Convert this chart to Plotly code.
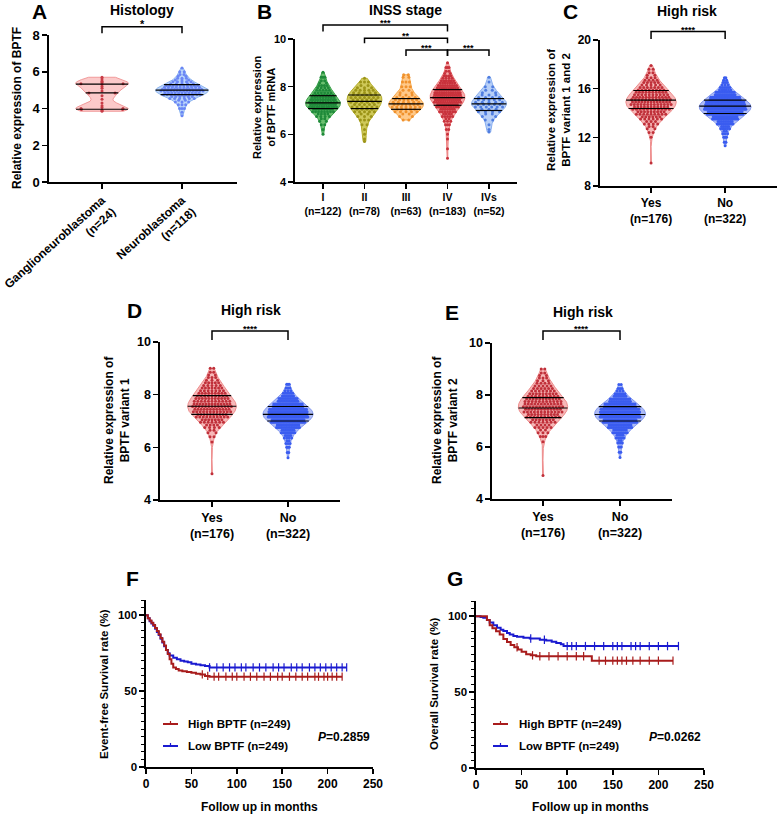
import numpy as np
import plotly.graph_objects as go

W, H = 778, 817
FONT = "Liberation Sans, Arial, sans-serif"

# ------------------------------------------------------------------ DATA
# Panel A: Histology (bins of expression value, number of samples per bin)
A_ticktext = ["Ganglioneuroblastoma<br>(n=24)", "Neuroblastoma<br>(n=118)"]
A_gnb_bins = [3.85, 3.9, 3.95, 4.0, 4.05, 4.15, 4.3, 4.5, 4.7, 4.85, 4.95, 5.1, 5.2, 5.3, 5.35, 5.4, 5.45, 5.5, 5.6, 5.7]
A_gnb_counts = [1, 1, 2, 2, 1, 1, 1, 1, 1, 2, 1, 1, 1, 1, 2, 1, 1, 1, 1, 1]
A_gnb_quart = [3.96, 4.85, 5.33]
A_nb_bins = [3.6, 3.8, 4.0, 4.2, 4.4, 4.6, 4.8, 5.0, 5.2, 5.4, 5.6, 5.8, 6.0, 6.2]
A_nb_counts = [1, 1, 3, 3, 5, 12, 22, 28, 20, 10, 6, 4, 2, 1]
A_nb_quart = [4.75, 5.0, 5.3]

# Panel B: INSS stage
B_ticktext = ["I<br>(n=122)", "II<br>(n=78)", "III<br>(n=63)", "IV<br>(n=183)", "IVs<br>(n=52)"]
B_I_bins = [6.0, 6.2, 6.4, 6.6, 6.8, 7.0, 7.2, 7.4, 7.6, 7.8, 8.0, 8.2, 8.4, 8.6]
B_I_counts = [1, 1, 2, 4, 8, 16, 24, 22, 17, 11, 8, 4, 3, 1]
B_I_quart = [7.08, 7.32, 7.62]
B_II_bins = [5.7, 5.8, 6.0, 6.2, 6.4, 6.6, 6.8, 7.0, 7.2, 7.4, 7.6, 7.8, 8.0, 8.2, 8.35]
B_II_counts = [1, 1, 1, 1, 2, 3, 5, 9, 11, 12, 13, 10, 5, 3, 1]
B_II_quart = [7.08, 7.38, 7.65]
B_III_bins = [6.6, 6.8, 7.0, 7.2, 7.4, 7.6, 7.8, 8.0, 8.2, 8.4, 8.5]
B_III_counts = [2, 4, 10, 14, 12, 7, 4, 3, 3, 2, 2]
B_III_quart = [7.05, 7.28, 7.5]
B_IV_bins = [5.0, 5.4, 5.8, 6.0, 6.2, 6.4, 6.6, 6.8, 7.0, 7.2, 7.4, 7.6, 7.8, 8.0, 8.2, 8.4, 8.6, 8.8, 9.0]
B_IV_counts = [1, 1, 1, 1, 2, 3, 5, 9, 14, 20, 26, 28, 24, 19, 13, 8, 4, 3, 1]
B_IV_quart = [7.22, 7.54, 7.88]
B_IVs_bins = [6.1, 6.2, 6.4, 6.6, 6.8, 7.0, 7.2, 7.4, 7.6, 7.8, 8.0, 8.2, 8.4]
B_IVs_counts = [1, 1, 1, 2, 4, 7, 11, 10, 7, 4, 2, 1, 1]
B_IVs_quart = [7.0, 7.28, 7.5]

# Panels C, D, E: High risk
risk_ticktext = ["Yes<br>(n=176)", "No<br>(n=322)"]
C_yes_bins = [9.9, 12.0, 12.4, 12.8, 13.2, 13.6, 14.0, 14.4, 14.8, 15.2, 15.6, 16.0, 16.4, 16.8, 17.2, 17.6, 17.9]
C_yes_counts = [1, 1, 2, 4, 7, 12, 18, 22, 26, 24, 20, 15, 10, 7, 4, 2, 1]
C_yes_quart = [14.37, 15.05, 15.85]
C_no_bins = [11.3, 11.6, 12.0, 12.4, 12.8, 13.2, 13.6, 14.0, 14.4, 14.8, 15.2, 15.6, 16.0, 16.4, 16.8]
C_no_counts = [1, 2, 3, 5, 10, 18, 32, 48, 62, 55, 40, 24, 12, 6, 4]
C_no_quart = [13.96, 14.56, 15.05]

D_yes_bins = [5.0, 6.2, 6.4, 6.6, 6.8, 7.0, 7.2, 7.4, 7.6, 7.8, 8.0, 8.2, 8.4, 8.6, 8.8, 9.0]
D_yes_counts = [1, 1, 2, 4, 8, 14, 20, 24, 26, 22, 18, 14, 10, 6, 4, 2]
D_yes_quart = [7.25, 7.56, 7.96]
D_no_bins = [5.6, 5.8, 6.0, 6.2, 6.4, 6.6, 6.8, 7.0, 7.2, 7.4, 7.6, 7.8, 8.0, 8.2, 8.4]
D_no_counts = [1, 2, 3, 5, 8, 16, 30, 48, 62, 58, 42, 25, 13, 6, 3]
D_no_quart = [7.0, 7.25, 7.55]

E_yes_bins = [4.9, 6.2, 6.4, 6.6, 6.8, 7.0, 7.2, 7.4, 7.6, 7.8, 8.0, 8.2, 8.4, 8.6, 8.8, 9.0]
E_yes_counts = [1, 1, 3, 5, 9, 14, 20, 24, 25, 22, 18, 13, 9, 6, 4, 2]
E_yes_quart = [7.13, 7.5, 7.9]
E_no_bins = [5.6, 5.8, 6.0, 6.2, 6.4, 6.6, 6.8, 7.0, 7.2, 7.4, 7.6, 7.8, 8.0, 8.2, 8.4]
E_no_counts = [1, 2, 3, 5, 9, 17, 30, 46, 60, 58, 44, 26, 13, 6, 2]
E_no_quart = [7.0, 7.25, 7.55]

# Panels F, G: Kaplan-Meier curves (months, survival %)
F_high_t = [0, 2, 4, 6, 8, 10, 12, 14, 16, 18, 20, 22, 24, 26, 28, 30, 33, 36, 40, 45, 50, 55, 60, 65, 70, 216]
F_high_s = [100, 98, 96.5, 95, 93.5, 91.5, 89.5, 87.5, 85, 82.5, 80, 77, 74.5, 71, 68, 65.5, 64.5, 63.5, 63, 62.5, 62, 61.5, 61, 60, 59.5, 59.5]
F_high_censor = [62, 68, 75, 80, 88, 95, 100, 108, 115, 122, 130, 137, 145, 150, 158, 165, 172, 178, 186, 190, 196, 200, 205, 210, 216]
F_low_t = [0, 2, 4, 6, 8, 10, 12, 14, 16, 18, 20, 22, 24, 26, 30, 34, 38, 42, 46, 50, 55, 60, 65, 70, 221]
F_low_s = [100, 98, 96, 94.5, 93, 91, 89, 87, 84.5, 82, 79.5, 77, 75, 73.5, 72, 71, 70, 69.5, 69, 68, 67.5, 67, 66.5, 65.6, 65.6]
F_low_censor = [70, 78, 85, 92, 98, 105, 110, 118, 125, 132, 140, 146, 152, 160, 166, 172, 180, 186, 192, 198, 204, 210, 216, 221]

G_high_t = [0, 8, 12, 15, 18, 22, 26, 30, 34, 38, 42, 46, 50, 55, 60, 66, 127, 216]
G_high_s = [100, 100, 97.5, 94, 92, 90, 88, 85, 83, 81, 79.5, 78, 76.5, 75, 74.2, 73.6, 70.7, 70.7]
G_high_censor = [45, 62, 70, 80, 90, 100, 110, 118, 135, 142, 150, 155, 160, 165, 172, 180, 190, 200, 216]
G_low_t = [0, 5, 8, 12, 15, 19, 23, 27, 30, 34, 37, 41, 45, 52, 59, 70, 77, 83, 88, 93, 96, 222]
G_low_s = [100, 99.5, 99, 97.5, 95.8, 94, 92.4, 91, 90.2, 89, 88, 87, 86.4, 85.8, 85.3, 84.5, 84, 83.2, 82.4, 81.5, 80.3, 80.3]
G_low_censor = [60, 75, 100, 105, 110, 120, 130, 140, 150, 155, 160, 170, 175, 180, 190, 200, 210, 222]

# ------------------------------------------------------------------ LAYOUT GEOMETRY (pixels)
PANELS = {
    "A": dict(ax=("x", "y"), xd=(49, 237), yd=(35, 182), xr=(-0.6625, 1.6875), yr=(0, 8)),
    "B": dict(ax=("x2", "y2"), xd=(295, 517), yd=(39, 182), xr=(-0.675, 4.675), yr=(4, 10)),
    "C": dict(ax=("x3", "y3"), xd=(600, 777), yd=(40, 186), xr=(-0.689, 1.70), yr=(8, 20)),
    "D": dict(ax=("x4", "y4"), xd=(160, 340), yd=(342, 500), xr=(-0.684, 1.684), yr=(4, 10)),
    "E": dict(ax=("x5", "y5"), xd=(492, 672), yd=(343, 499), xr=(-0.662, 1.675), yr=(4, 10)),
    "F": dict(ax=("x6", "y6"), xd=(146, 373), yd=(600, 767), xr=(0, 250), yr=(0, 110)),
    "G": dict(ax=("x7", "y7"), xd=(476, 704), yd=(601, 768), xr=(0, 250), yr=(0, 110)),
}


def fx(px):
    return px / W


def fy(py):
    return 1 - py / H


def pp(px, py):
    return fx(px), fy(py)


def to_paper(p, x, y):
    g = PANELS[p]
    px = g["xd"][0] + (x - g["xr"][0]) / (g["xr"][1] - g["xr"][0]) * (g["xd"][1] - g["xd"][0])
    py = g["yd"][1] - (y - g["yr"][0]) / (g["yr"][1] - g["yr"][0]) * (g["yd"][1] - g["yd"][0])
    return pp(px, py)


fig = go.Figure()
shapes, annotations = [], []


def add_violin(p, pos, bins, counts, quart, fill, edge, dot, bw, maxw, split):
    xa, ya = PANELS[p]["ax"]
    vals = np.repeat(np.asarray(bins, float), counts)
    grid = np.linspace(vals.min(), vals.max(), 240)
    dens = np.exp(-0.5 * ((grid[:, None] - vals[None, :]) / bw) ** 2).sum(axis=1)
    w = dens / dens.max() * maxw
    xs = np.concatenate([pos - w, (pos + w)[::-1], [pos - w[0]]])
    ys = np.concatenate([grid, grid[::-1], [grid[0]]])
    fig.add_trace(go.Scatter(x=xs, y=ys, mode="lines", fill="toself", fillcolor=fill,
                             line=dict(color=edge, width=1), xaxis=xa, yaxis=ya,
                             hoverinfo="skip", showlegend=False))
    # beeswarm-like placement of the samples of each bin (two staggered rows)
    dx, dy = [], []
    for b, c in zip(bins, counts):
        half = np.interp(b, grid, w) * 0.8
        if c == 1:
            dx.append(pos)
            dy.append(b)
            continue
        if split <= 0 or c < 4:
            offs = np.linspace(-half, half, c)
            dx.extend((pos + offs).tolist())
            dy.extend([b] * c)
            continue
        n1 = (c + 1) // 2
        n2 = c - n1
        o1 = np.linspace(-half, half, n1)
        e2 = np.linspace(-half, half, n2 + 1)
        o2 = (e2[:-1] + e2[1:]) / 2
        dx.extend((pos + o1).tolist())
        dy.extend([b - split] * n1)
        dx.extend((pos + o2).tolist())
        dy.extend([b + split] * n2)
    fig.add_trace(go.Scatter(x=dx, y=dy, mode="markers", marker=dict(size=3, color=dot, line=dict(width=0)),
                             xaxis=xa, yaxis=ya, hoverinfo="skip", showlegend=False))
    qx, qy = [], []
    for q in quart:
        hw = np.interp(q, grid, w)
        qx += [pos - hw, pos + hw, None]
        qy += [q, q, None]
    fig.add_trace(go.Scatter(x=qx, y=qy, mode="lines", line=dict(color="black", width=1.2),
                             xaxis=xa, yaxis=ya, hoverinfo="skip", showlegend=False))


def bracket(p, x0, x1, ytop, yleg0, yleg1, stars, size=10):
    X0, Yt = to_paper(p, x0, ytop)
    X1, _ = to_paper(p, x1, ytop)
    _, L0 = to_paper(p, x0, yleg0)
    _, L1 = to_paper(p, x1, yleg1)
    shapes.append(dict(type="path", xref="paper", yref="paper",
                       path=f"M{X0},{L0} L{X0},{Yt} L{X1},{Yt} L{X1},{L1}",
                       line=dict(color="black", width=1.5)))
    annotations.append(dict(x=(X0 + X1) / 2, y=Yt, xref="paper", yref="paper", text=stars,
                            showarrow=False, xanchor="center", yanchor="bottom", yshift=-4, borderpad=0,
                            font=dict(family=FONT, size=size, color="black", weight="bold")))


def text(px, py, s, size, angle=0, xanchor="center", yanchor="middle", align="center"):
    x, y = pp(px, py)
    annotations.append(dict(x=x, y=y, xref="paper", yref="paper", text=s, showarrow=False,
                            textangle=angle, xanchor=xanchor, yanchor=yanchor, align=align, borderpad=0,
                            font=dict(family=FONT, size=size, color="black", weight="bold")))


# colours
RED = dict(fill="#f7b8b8", edge="#ee8c8c", dot="#c0303a")
BLUE = dict(fill="#aebcf6", edge="#8499f0", dot="#3a5cf0")

# ---- Panel A
add_violin("A", 0, A_gnb_bins, A_gnb_counts, A_gnb_quart, "#fbcaca", "#f19a9a", "#c83c46", 0.2, 0.33, 0)
add_violin("A", 1, A_nb_bins, A_nb_counts, A_nb_quart, "#bcd6fa", "#8cb4f0", "#6a86f5", 0.2, 0.33, 0.05)
bracket("A", 0, 1, 8.45, 8.09, 8.09, "*", 11)

# ---- Panel B
B_style = [("#6cc070", "#3aa24a", "#1f8a3a"), ("#cfc95a", "#b5ad2a", "#9c9418"),
           ("#ffc98a", "#f7a94a", "#f0922e"), ("#f5a8a8", "#ee8080", "#c8323c"),
           ("#b7cff7", "#88aef0", "#4f7de0")]
B_groups = [(B_I_bins, B_I_counts, B_I_quart), (B_II_bins, B_II_counts, B_II_quart),
            (B_III_bins, B_III_counts, B_III_quart), (B_IV_bins, B_IV_counts, B_IV_quart),
            (B_IVs_bins, B_IVs_counts, B_IVs_quart)]
for i, ((b, c, q), (f, e, d)) in enumerate(zip(B_groups, B_style)):
    add_violin("B", i, b, c, q, f, e, d, 0.2, 0.42, 0.05)
bracket("B", 0, 3, 10.59, 10.31, 10.31, "***", 9)
bracket("B", 1, 3, 10.03, 9.82, 9.82, "**", 9)
bracket("B", 2, 3, 9.54, 9.29, 9.29, "***", 9)
bracket("B", 3, 4, 9.54, 9.29, 9.29, "***", 9)

# ---- Panels C, D, E
add_violin("C", 0, C_yes_bins, C_yes_counts, C_yes_quart, RED["fill"], RED["edge"], RED["dot"], 0.4, 0.34, 0.1)
add_violin("C", 1, C_no_bins, C_no_counts, C_no_quart, BLUE["fill"], BLUE["edge"], BLUE["dot"], 0.4, 0.35, 0.1)
bracket("C", 0, 1, 20.69, 20.08, 20.08, "****", 9)

add_violin("D", 0, D_yes_bins, D_yes_counts, D_yes_quart, RED["fill"], RED["edge"], RED["dot"], 0.2, 0.32, 0.05)
add_violin("D", 1, D_no_bins, D_no_counts, D_no_quart, BLUE["fill"], BLUE["edge"], BLUE["dot"], 0.2, 0.33, 0.05)
bracket("D", 0, 1, 10.42, 10.08, 10.08, "****", 9)

add_violin("E", 0, E_yes_bins, E_yes_counts, E_yes_quart, RED["fill"], RED["edge"], RED["dot"], 0.2, 0.32, 0.05)
add_violin("E", 1, E_no_bins, E_no_counts, E_no_quart, BLUE["fill"], BLUE["edge"], BLUE["dot"], 0.2, 0.33, 0.05)
bracket("E", 0, 1, 10.46, 10.12, 10.12, "****", 9)

# ---- Panels F, G (Kaplan-Meier)
KM_RED, KM_BLUE = "#a81c1c", "#1a1ad0"


def add_km(p, t, s, censor, color):
    xa, ya = PANELS[p]["ax"]
    fig.add_trace(go.Scatter(x=t, y=s, mode="lines", line=dict(color=color, width=2, shape="hv"),
                             xaxis=xa, yaxis=ya, hoverinfo="skip", showlegend=False))
    t_arr, s_arr = np.asarray(t), np.asarray(s)
    cy = [float(s_arr[np.searchsorted(t_arr, c, side="right") - 1]) for c in censor]
    fig.add_trace(go.Scatter(x=censor, y=cy, mode="markers",
                             marker=dict(symbol="line-ns", size=6, line=dict(color=color, width=1.2)),
                             xaxis=xa, yaxis=ya, hoverinfo="skip", showlegend=False))


add_km("F", F_low_t, F_low_s, F_low_censor, KM_BLUE)
add_km("F", F_high_t, F_high_s, F_high_censor, KM_RED)
add_km("G", G_low_t, G_low_s, G_low_censor, KM_BLUE)
add_km("G", G_high_t, G_high_s, G_high_censor, KM_RED)

# manual KM legends + P values
for (lx, tx, px_), pval in [((163, 187, 317), "0.2859"), ((493, 518, 648), "0.0262")]:
    for yy, col, lab in [(724, KM_RED, "High BPTF (n=249)"), (746, KM_BLUE, "Low BPTF (n=249)")]:
        x0, y0 = pp(lx, yy)
        x1, _ = pp(lx + 15, yy)
        xm, _ = pp(lx + 7.5, yy)
        yt = fy(yy - 3)
        shapes.append(dict(type="line", xref="paper", yref="paper", x0=x0, x1=x1, y0=y0, y1=y0,
                           line=dict(color=col, width=2)))
        shapes.append(dict(type="line", xref="paper", yref="paper", x0=xm, x1=xm, y0=y0, y1=yt,
                           line=dict(color=col, width=1.2)))
        text(tx, yy, lab, 11.5, xanchor="left")
    text(px_, 737, "<i>P</i>=" + pval, 12, xanchor="left")

# ---- titles, letters, axis titles
text(142, 10, "Histology", 14)
text(405, 10, "INSS stage", 14)
text(687, 11, "High risk", 14)
text(251, 310, "High risk", 14)
text(583, 312, "High risk", 14)
for L, (lx, ly) in {"A": (39, 11), "B": (264, 11), "C": (570, 12), "D": (134, 310),
                    "E": (452, 312), "F": (132, 578), "G": (455, 578)}.items():
    text(lx, ly, L, 21)

text(17, 108, "Relative expression of BPTF", 12, angle=-90)
text(264, 107, "Relative expression<br>of BPTF mRNA", 11, angle=-90)
text(558, 110, "Relative expression of<br>BPTF variant 1 and 2", 11.5, angle=-90)
text(117, 420, "Relative expression of<br>BPTF variant 1", 12, angle=-90)
text(445, 420, "Relative expression of<br>BPTF variant 2", 12, angle=-90)
text(104, 684, "Event-free Survival rate (%)", 11.5, angle=-90)
text(434, 684, "Overall Survival rate (%)", 11.5, angle=-90)
text(259, 807, "Follow up in months", 12)
text(590, 807, "Follow up in months", 12)

# ---- axes
axis_common = dict(showline=True, linecolor="black", linewidth=1.6, ticks="outside", ticklen=5,
                   tickwidth=1.5, tickcolor="black", showgrid=False, zeroline=False, fixedrange=True,
                   automargin=False, ticklabeloverflow="allow")


def set_axes(p, xticks, xtext, yticks, xfont, yfont, tickangle=0, yminor=None):
    g = PANELS[p]
    xa, ya = g["ax"]
    xkey = "xaxis" if xa == "x" else "xaxis" + xa[1:]
    ykey = "yaxis" if ya == "y" else "yaxis" + ya[1:]
    fig.layout[xkey] = dict(axis_common, domain=[fx(g["xd"][0]), fx(g["xd"][1])], range=list(g["xr"]),
                            anchor=ya, tickvals=xticks, ticktext=xtext, tickangle=tickangle,
                            tickfont=dict(family=FONT, size=xfont, color="black", weight="bold"))
    yd = dict(axis_common, domain=[fy(g["yd"][1]), fy(g["yd"][0])], range=list(g["yr"]),
              anchor=xa, tickvals=yticks, ticktext=[str(v) for v in yticks],
              tickfont=dict(family=FONT, size=yfont, color="black", weight="bold"))
    if yminor:
        yd["minor"] = dict(dtick=yminor, tick0=0, ticks="outside", ticklen=3, tickwidth=1, tickcolor="black")
    fig.layout[ykey] = yd


set_axes("A", [0, 1], A_ticktext, [0, 2, 4, 6, 8], 12, 13, tickangle=-42)
set_axes("B", [0, 1, 2, 3, 4], B_ticktext, [4, 6, 8, 10], 10.5, 11)
set_axes("C", [0, 1], risk_ticktext, [8, 12, 16, 20], 12, 12)
set_axes("D", [0, 1], risk_ticktext, [4, 6, 8, 10], 12.5, 12.5)
set_axes("E", [0, 1], risk_ticktext, [4, 6, 8, 10], 12.5, 12.5)
set_axes("F", [0, 50, 100, 150, 200, 250], ["0", "50", "100", "150", "200", "250"], [0, 50, 100], 12, 11.5, yminor=5)
set_axes("G", [0, 50, 100, 150, 200, 250], ["0", "50", "100", "150", "200", "250"], [0, 50, 100], 12, 11.5, yminor=5)

fig.update_layout(template="none", width=W, height=H, margin=dict(l=0, r=0, t=0, b=0, pad=0), autosize=False,
                  paper_bgcolor="white", plot_bgcolor="white", showlegend=False, hovermode=False,
                  font=dict(family=FONT, color="black"),
                  shapes=shapes, annotations=annotations)

# the page's default 8px body margin would push the 778x817 figure out of the window
fig.write_html("out.html", config={"displayModeBar": False, "staticPlot": True},
               post_script="document.body.style.margin='0px';")
